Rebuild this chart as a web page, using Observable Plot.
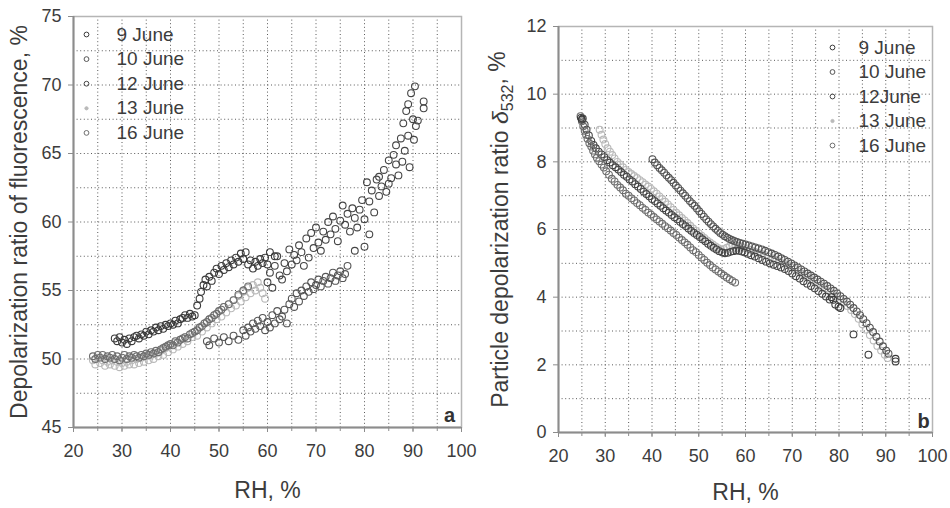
<!DOCTYPE html>
<html>
<head>
<meta charset="utf-8">
<script src="https://cdn.jsdelivr.net/npm/d3@7"></script>
<script src="https://cdn.jsdelivr.net/npm/@observablehq/plot@0.6"></script>
<style>
  html, body { margin: 0; padding: 0; background: #fff; }
  #wrap { position: relative; width: 950px; height: 508px; overflow: hidden; background: #fff; }
  #pa, #pb { position: absolute; top: 0; }
  #pa { left: 0; }
  #pb { left: 475px; }
</style>
</head>
<body>
<div id="wrap"><div id="pa"></div><div id="pb"></div></div>
<script>
// ---------- shared ----------
const seriesNames = ["9 June", "10 June", "12 June", "13 June", "16 June"];
const seriesColors = ["#3a3a3a", "#555555", "#454545", "#b9b9b9", "#6e6e6e"];

// ---------- panel a: depolarization ratio of fluorescence (%) vs RH (%) ----------
const xTicksA = [20, 30, 40, 50, 60, 70, 80, 90, 100];
const xGridA = [25, 30, 35, 40, 45, 50, 55, 60, 65, 70, 75, 80, 85, 90, 95];
const yTicksA = [45, 50, 55, 60, 65, 70, 75];
const yGridA = [47.5, 50, 52.5, 55, 57.5, 60, 62.5, 65, 67.5, 70, 72.5];

const fluo9June = [[28.5,51.5],[29,51.3],[29.5,51.6],[30,51.2],[30.5,51.4],[31,51.1],[31.5,51.5],[32,51.3],[32.5,51.6],[33,51.7],[33.5,51.5],[34,51.8],[34.5,51.7],[35,52.0],[35.5,51.8],[36,52.1],[36.5,52.0],[37,52.3],[37.5,52.1],[38,52.4],[38.5,52.2],[39,52.5],[39.5,52.4],[40,52.6],[40.5,52.5],[41,52.8],[41.5,52.6],[42,52.9],[42.5,53.0],[43,53.2],[43.5,53.0],[44,53.3],[44.5,53.1],[45,53.2],[45.5,53.9],[46,54.4],[46.3,54.9],[46.8,55.4],[47.2,55.8],[47.5,55.3],[48,56.0],[48.5,55.7],[49,56.3],[49.5,56.6],[50,56.2],[50.5,56.8],[51,56.5],[51.5,57.0],[52,56.7],[52.5,57.2],[53,56.9],[53.5,57.4],[54,57.1],[54.5,57.7],[55,57.3],[55.5,57.8],[56,56.9],[56.5,57.2],[57,56.6],[57.5,57.1],[58,56.8],[58.5,57.3],[59,57.0],[59.5,57.4],[60,56.9],[60.5,57.8],[61.5,57.5]];
const fluo10June = [[47.5,51.3],[48,51.0],[49,51.5],[50,51.2],[51,51.6],[52,51.3],[53,51.7],[54,51.4],[55,52.1],[55.5,51.7],[56,52.3],[56.5,52.0],[57,52.6],[57.5,52.2],[58,52.8],[58.5,52.4],[59,53.0],[59.5,52.1],[60,52.7],[60.5,52.3],[61,53.2],[61.5,52.6],[62,53.5],[62.5,52.9],[63,53.1],[63.5,53.6],[64,52.6],[64.5,54.0],[65,54.4],[65.5,53.8],[66,54.8],[66.5,54.2],[67,55.0],[67.5,54.6],[68,55.3],[68.5,54.9],[69,55.6],[69.5,55.1],[70,55.4],[70.5,55.8],[71,55.3],[71.5,55.7],[72,56.0],[72.5,55.5],[73,55.9],[73.5,56.3],[74,55.7],[74.5,56.1],[75,56.4],[75.5,55.9],[76,56.2],[76.5,56.8]];
const fluo12June = [[60,55.6],[60.5,56.3],[61,55.2],[61.5,56.8],[62,57.5],[62.5,56.1],[63,55.8],[63.5,57.0],[64,56.4],[64.5,58.0],[65,56.9],[65.5,57.6],[66,57.2],[66.5,58.3],[67,57.8],[67.5,56.8],[68,58.8],[68.5,57.4],[69,59.2],[69.5,58.1],[70,59.6],[70.5,58.5],[71,57.9],[71.5,59.3],[72,58.7],[72.5,60.0],[73,59.1],[73.5,60.4],[74,59.5],[74.5,58.6],[75,60.1],[75.5,61.2],[76,59.8],[76.5,60.6],[77,59.3],[77.5,61.0],[78,60.3],[78.5,59.6],[79,60.9],[79.5,61.6],[80,60.2],[80.5,62.9],[81,61.5],[81.5,62.3],[82,60.7],[82.5,63.1],[83,61.9],[83.5,62.6],[84,63.8],[84.5,62.2],[85,64.5],[85.5,63.2],[86,64.9],[86.5,65.6],[87,63.4],[87.5,66.1],[87.8,64.4],[88,67.2],[88.3,65.2],[88.6,68.1],[89,66.3],[89.3,64.0],[89.6,69.4],[90,67.5],[90.2,66.0],[90.4,69.9],[90.6,67.0],[91,67.4],[89,68.6],[86.5,64.2],[85,62.8],[83,63.3],[92.2,68.8],[92.2,68.3],[78,57.9],[80,58.2],[81,59.1]];
const fluo13June = [[24,49.9],[24.5,49.6],[25,50.1],[25.5,49.7],[26,49.9],[26.5,49.5],[27,49.8],[27.5,49.6],[28,49.9],[28.5,49.5],[29,49.8],[29.5,49.4],[30,49.7],[30.5,49.5],[31,49.8],[31.5,49.6],[32,49.9],[32.5,49.6],[33,50.0],[33.5,49.7],[34,50.1],[34.5,49.8],[35,50.2],[35.5,49.9],[36,50.3],[36.5,50.0],[37,50.4],[37.5,50.2],[38,50.6],[38.5,50.3],[39,50.8],[39.5,50.5],[40,51.0],[40.5,50.7],[41,51.2],[41.5,50.9],[42,51.4],[42.5,51.1],[43,51.6],[43.5,51.3],[44,51.8],[44.5,51.6],[45,52.0],[45.5,51.7],[46,52.3],[46.5,52.0],[47,52.6],[47.5,52.3],[48,52.9],[48.5,52.6],[49,53.2],[49.5,52.9],[50,53.5],[50.5,53.1],[51,53.8],[51.5,53.4],[52,54.0],[52.5,53.7],[53,54.3],[53.5,53.9],[54,54.6],[54.5,54.2],[55,54.9],[55.5,54.5],[56,55.2],[56.5,54.8],[57,55.4],[57.5,55.0],[58,55.6],[58.5,55.2],[59,54.8],[59.5,54.4]];
const fluo16June = [[24,50.2],[24.5,50.0],[25,50.3],[25.5,50.1],[26,50.3],[26.5,50.0],[27,50.2],[27.5,50.1],[28,50.3],[28.5,50.0],[29,50.2],[29.5,49.9],[30,50.1],[30.5,50.3],[31,50.0],[31.5,50.2],[32,50.1],[32.5,50.3],[33,50.2],[33.5,50.1],[34,50.3],[34.5,50.2],[35,50.4],[35.5,50.3],[36,50.5],[36.5,50.4],[37,50.6],[37.5,50.5],[38,50.7],[38.5,50.8],[39,50.9],[39.5,51.0],[40,51.1],[40.5,51.0],[41,51.3],[41.5,51.2],[42,51.4],[42.5,51.5],[43,51.6],[43.5,51.5],[44,51.8],[44.5,51.9],[45,52.0],[45.5,52.1],[46,52.3],[46.5,52.4],[47,52.6],[47.5,52.7],[48,52.9],[48.5,53.0],[49,53.2],[49.5,53.3],[50,53.5],[50.5,53.6],[51,53.8],[52,54.0],[53,54.3],[54,54.7],[55,55.0],[56,55.3]];
const fluoSeries = [fluo9June, fluo10June, fluo12June, fluo13June, fluo16June];

// ---------- panel b: particle depolarization ratio (%) vs RH (%) ----------
const xTicksB = [20, 30, 40, 50, 60, 70, 80, 90, 100];
const xGridB = [25, 30, 35, 40, 45, 50, 55, 60, 65, 70, 75, 80, 85, 90, 95];
const yTicksB = [0, 2, 4, 6, 8, 10, 12];
const yGridB = [1, 2, 3, 4, 5, 6, 7, 8, 9, 10, 11];

const pdr9June = [[24.8,9.3],[25.0,9.25],[78.4,4.0],[78.8,3.92],[79.2,3.78],[79.9,3.72],[80.3,3.68],[83.1,2.9],[86.3,2.3],[92.1,2.18],[92.1,2.1]];
const pdr10June = [[40.1,8.08],[40.6,7.98],[41.1,7.9],[41.6,7.82],[42.1,7.75],[42.6,7.68],[43.1,7.6],[43.6,7.53],[44.1,7.46],[44.6,7.38],[45.1,7.3],[45.6,7.23],[46.1,7.15],[46.6,7.07],[47.1,7.0],[47.6,6.92],[48.1,6.84],[48.6,6.77],[49.1,6.7],[49.6,6.62],[50.1,6.54],[50.6,6.46],[51.1,6.38],[51.6,6.3],[52.1,6.23],[52.6,6.16],[53.1,6.09],[53.6,6.02],[54.1,5.96],[54.6,5.9],[55.1,5.85],[55.6,5.8],[56.1,5.76],[56.6,5.72],[57.1,5.69],[57.6,5.66],[58.2,5.63],[58.8,5.6],[59.4,5.58],[60,5.56],[60.7,5.53],[61.4,5.5],[62.1,5.47],[62.8,5.44],[63.5,5.41],[64.2,5.37],[64.9,5.33],[65.6,5.29],[66.3,5.25],[67,5.2],[67.7,5.15],[68.4,5.1],[69.1,5.05],[69.8,5.0],[70.5,4.94],[71.2,4.88],[71.9,4.82],[72.6,4.76],[73.3,4.7],[74,4.64],[74.7,4.58],[75.4,4.52],[76.1,4.46],[76.8,4.4],[77.5,4.33],[78.2,4.26],[78.9,4.19],[79.6,4.11],[80.3,4.03],[81,3.95],[81.7,3.87],[82.4,3.78],[83.1,3.68],[83.8,3.58],[84.5,3.47],[85.2,3.35],[85.9,3.23],[86.6,3.1],[87.3,2.97],[88,2.83],[88.7,2.69],[89.4,2.55],[90.1,2.42],[90.6,2.33]];
const pdr12June = [[25.2,9.28],[25.6,9.1],[26.0,8.95],[26.5,8.78],[27.0,8.62],[27.5,8.5],[28.0,8.4],[28.6,8.3],[29.2,8.22],[29.8,8.14],[30.4,8.05],[31.0,7.98],[31.6,7.9],[32.2,7.84],[32.8,7.77],[33.4,7.7],[34.0,7.62],[34.6,7.56],[35.2,7.48],[35.8,7.42],[36.4,7.34],[37.0,7.27],[37.6,7.2],[38.2,7.12],[38.8,7.05],[39.4,6.98],[40.0,6.9],[40.6,6.84],[41.2,6.77],[41.8,6.7],[42.4,6.63],[43.0,6.56],[43.6,6.5],[44.2,6.43],[44.8,6.36],[45.4,6.3],[46.0,6.23],[46.6,6.16],[47.2,6.1],[47.8,6.03],[48.4,5.96],[49.0,5.9],[49.6,5.84],[50.2,5.78],[50.8,5.71],[51.4,5.65],[52.0,5.58],[52.6,5.52],[53.2,5.46],[53.8,5.41],[54.4,5.36],[55.0,5.32],[55.6,5.3],[56.2,5.31],[56.8,5.34],[57.4,5.36],[58.0,5.38],[58.6,5.37],[59.2,5.35],[59.8,5.32],[60.5,5.28],[61.2,5.24],[62.0,5.2],[62.8,5.15],[63.6,5.1],[64.4,5.05],[65.2,5.0],[66.0,4.96],[66.8,4.92],[67.6,4.88],[68.4,4.83],[69.2,4.77],[70.0,4.7],[70.8,4.62],[71.6,4.55],[72.4,4.47],[73.2,4.4],[74.0,4.33],[74.8,4.26],[75.6,4.18],[76.4,4.1],[77.2,4.02],[78.0,3.93]];
const pdr13June = [[28.8,8.95],[29.2,8.8],[29.6,8.66],[30.0,8.53],[30.5,8.4],[31.0,8.3],[31.5,8.2],[32.0,8.1],[32.6,8.0],[33.2,7.92],[33.8,7.84],[34.4,7.76],[35.0,7.7],[35.6,7.64],[36.2,7.58],[36.8,7.52],[37.4,7.46],[38.0,7.4],[38.6,7.33],[39.2,7.27],[39.8,7.2],[40.4,7.13],[41.0,7.06],[41.6,6.98],[42.2,6.9],[42.8,6.82],[43.4,6.74],[44.0,6.66],[44.6,6.58],[45.2,6.5],[45.8,6.42],[46.4,6.34],[47.0,6.27],[47.6,6.19],[48.2,6.11],[48.8,6.03],[49.4,5.96],[50.0,5.89],[50.6,5.82],[51.2,5.75],[51.8,5.68],[52.4,5.62],[53.0,5.56],[53.6,5.5],[54.2,5.45],[54.8,5.4],[55.4,5.42],[56,5.46],[56.6,5.5],[57.2,5.52],[57.8,5.53],[58.4,5.52],[59,5.5],[59.6,5.47],[60.2,5.44],[61,5.4],[61.8,5.36],[62.6,5.32],[63.4,5.28],[64.2,5.24],[65,5.2],[65.8,5.15],[66.6,5.1],[67.4,5.05],[68.2,5.0],[69,4.95],[69.8,4.89],[70.6,4.83],[71.4,4.76],[72.2,4.69],[73,4.62],[73.8,4.54],[74.6,4.47],[75.4,4.4],[76.2,4.33],[77,4.26],[77.8,4.18],[78.6,4.1],[79.4,4.02],[80.2,3.93],[81,3.84],[81.8,3.74],[82.6,3.62],[83.4,3.5],[84.2,3.36],[85,3.2],[85.8,3.04],[86.6,2.88],[87.4,2.72],[88.2,2.56],[89,2.42],[89.8,2.3],[90.4,2.2]];
const pdr16June = [[24.7,9.35],[25.0,9.2],[25.3,9.05],[25.6,8.92],[25.9,8.8],[26.2,8.68],[26.6,8.55],[27.0,8.45],[27.4,8.33],[27.8,8.22],[28.2,8.12],[28.7,8.02],[29.2,7.92],[29.7,7.83],[30.2,7.72],[30.8,7.62],[31.4,7.5],[32.0,7.42],[32.6,7.32],[33.2,7.24],[33.8,7.16],[34.4,7.06],[35.0,7.0],[35.6,6.92],[36.2,6.86],[36.8,6.78],[37.4,6.72],[38.0,6.64],[38.6,6.58],[39.2,6.5],[39.8,6.44],[40.4,6.37],[41.0,6.3],[41.6,6.24],[42.2,6.17],[42.8,6.1],[43.4,6.04],[44.0,5.97],[44.6,5.9],[45.2,5.84],[45.8,5.76],[46.4,5.69],[47.0,5.62],[47.6,5.55],[48.2,5.47],[48.8,5.39],[49.4,5.33],[50.0,5.25],[50.6,5.17],[51.2,5.1],[51.8,5.02],[52.4,4.95],[53.0,4.88],[53.6,4.82],[54.2,4.76],[54.8,4.7],[55.4,4.64],[56.0,4.58],[56.6,4.53],[57.2,4.48],[57.8,4.43]];
const pdrSeries = [pdr9June, pdr10June, pdr12June, pdr13June, pdr16June];

const legendNamesB = ["9 June", "10 June", "12June", "13 June", "16 June"];

const FONT = "'Liberation Sans', Arial, Helvetica, sans-serif";
const TXT = "#3c3c3c";

function panel(opts) {
  const {xTicks, xGrid, yTicks, yGrid, xDomain, yDomain, series, margins, legend, legendNames, letter, letterOffset, yLabel, yLabelDx, xLabelDy, drawOrder} = opts;
  const marks = [];
  // grid
  marks.push(Plot.ruleX(xGrid, {stroke: "#5a5a5a", strokeWidth: 1, strokeDasharray: "1,2.6"}));
  marks.push(Plot.ruleY(yGrid, {stroke: "#5a5a5a", strokeWidth: 1, strokeDasharray: "1,2.6"}));
  // frame
  marks.push(Plot.frame({stroke: "#b5b5b5", strokeWidth: 1.5}));
  marks.push(Plot.ruleX([xDomain[0]], {stroke: "#8c8c8c", strokeWidth: 2}));
  marks.push(Plot.ruleY([yDomain[0]], {stroke: "#8c8c8c", strokeWidth: 2}));
  // axes
  marks.push(Plot.axisX({ticks: xGrid, tickSize: 4, text: null, stroke: "#8c8c8c", label: null}));
  marks.push(Plot.axisX({ticks: xTicks, tickSize: 5, tickPadding: 12, fontSize: 18, fill: TXT, stroke: "#8c8c8c", label: null}));
  marks.push(Plot.axisY({ticks: yTicks, tickSize: 5, tickPadding: 7, fontSize: 18, fill: TXT, stroke: "#8c8c8c", label: null}));
  // data
  drawOrder.forEach(i => {
    marks.push(Plot.dot(series[i], {x: d => d[0], y: d => d[1], r: 3.4, stroke: seriesColors[i], strokeWidth: 1.1, fill: "none"}));
  });
  // legend
  legendNames.forEach((name, i) => {
    marks.push(Plot.dot([name], {frameAnchor: "top-left", dx: legend.mx, dy: legend.y0 + i * legend.step, r: i === 3 ? 1.6 : 2.4, stroke: seriesColors[i], fill: i === 3 ? seriesColors[i] : "none", strokeWidth: 1}));
    marks.push(Plot.text([name], {text: d => d, frameAnchor: "top-left", dx: legend.tx, dy: legend.y0 + i * legend.step, textAnchor: "start", lineAnchor: "middle", fontSize: 19, fill: TXT}));
  });
  // panel letter
  marks.push(Plot.text([letter], {text: d => d, frameAnchor: "bottom-right", dx: letterOffset[0], dy: letterOffset[1], textAnchor: "middle", lineAnchor: "middle", fontSize: 20, fontWeight: "bold", fill: "#333"}));
  // axis titles
  marks.push(Plot.text([yLabel], {text: d => d, frameAnchor: "left", dx: yLabelDx, rotate: -90, textAnchor: "middle", lineAnchor: "middle", fontSize: 23, fill: TXT}));
  marks.push(Plot.text(["RH, %"], {text: d => d, frameAnchor: "bottom", dy: xLabelDy, textAnchor: "middle", lineAnchor: "middle", fontSize: 23, fill: TXT}));

  return Plot.plot({
    width: 475, height: 508,
    marginLeft: margins[0], marginRight: margins[1], marginTop: margins[2], marginBottom: margins[3],
    x: {domain: xDomain}, y: {domain: yDomain},
    style: {fontFamily: FONT, background: "transparent", overflow: "visible"},
    marks
  });
}

const svgA = panel({
  xTicks: xTicksA, xGrid: xGridA, yTicks: yTicksA, yGrid: yGridA,
  xDomain: [20, 100], yDomain: [45, 75], series: fluoSeries,
  margins: [73, 14, 16, 81],
  legend: {mx: 13, tx: 43, y0: 18, step: 24.6},
  legendNames: seriesNames,
  letter: "a", letterOffset: [-12, -12],
  yLabel: "Depolarization ratio of fluorescence, %", yLabelDx: -54, xLabelDy: 63,
  drawOrder: [3, 4, 0, 1, 2]
});
document.getElementById("pa").appendChild(svgA);

const svgB = panel({
  xTicks: xTicksB, xGrid: xGridB, yTicks: yTicksB, yGrid: yGridB,
  xDomain: [20, 100], yDomain: [0, 12], series: pdrSeries,
  margins: [83, 18, 26, 76],
  legend: {mx: 274, tx: 300, y0: 21, step: 24.5},
  legendNames: legendNamesB,
  letter: "b", letterOffset: [-9, -11],
  yLabel: "Particle depolarization ratio δ532, %", yLabelDx: -58, xLabelDy: 60,
  drawOrder: [3, 2, 4, 1, 0]
});
document.getElementById("pb").appendChild(svgB);

// subscript / italic for the delta symbol
d3.select(svgB).selectAll("text").filter(function () { return this.textContent === "Particle depolarization ratio δ532, %"; })
  .each(function () {
    const t = d3.select(this);
    t.text(null);
    t.append("tspan").text("Particle depolarization ratio ");
    t.append("tspan").attr("font-style", "italic").text("δ");
    t.append("tspan").attr("dy", "0.35em").attr("font-size", 16).text("532");
    t.append("tspan").attr("dy", "-0.35em").text(", %");
  });
</script>
</body>
</html>
